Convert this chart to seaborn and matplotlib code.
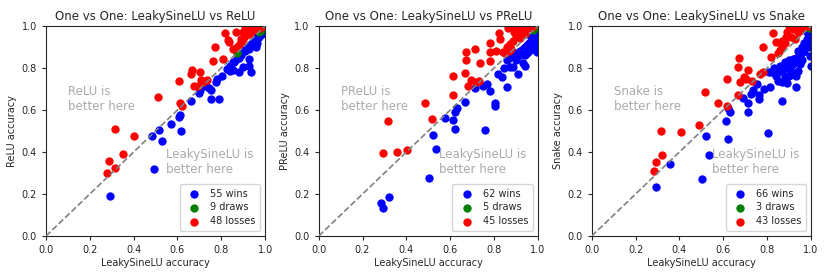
import matplotlib
matplotlib.use("Agg")
import matplotlib.pyplot as plt
import seaborn as sns

# opponents and legend counts
opponents = ["ReLU", "PReLU", "Snake"]
win_counts = [55, 62, 66]
draw_counts = [9, 5, 3]
loss_counts = [48, 45, 43]

# --- LeakySineLU vs ReLU ---
relu_win_x = [0.29, 0.495, 0.485, 0.516, 0.531, 0.571, 0.607, 0.61, 0.616, 0.661, 0.70, 0.703, 0.729,
              0.744, 0.752, 0.752, 0.791, 0.776, 0.779, 0.802, 0.825, 0.84, 0.855, 0.881, 0.855, 0.87,
              0.901, 0.925, 0.934, 0.928, 0.925, 0.90, 0.886, 0.959, 0.962, 0.97, 0.98, 0.99,
              0.84, 0.86, 0.88, 0.89, 0.91, 0.92, 0.93, 0.94, 0.95, 0.96, 0.97, 0.98, 0.99, 0.995,
              0.96, 0.985, 1.0]
relu_win_y = [0.19, 0.32, 0.475, 0.506, 0.452, 0.535, 0.567, 0.577, 0.50, 0.643, 0.681, 0.697, 0.713,
              0.706, 0.694, 0.651, 0.651, 0.733, 0.749, 0.76, 0.797, 0.786, 0.789, 0.781, 0.829, 0.844,
              0.805, 0.81, 0.783, 0.844, 0.892, 0.884, 0.876, 0.90, 0.919, 0.948, 0.963, 0.971,
              0.81, 0.83, 0.85, 0.86, 0.88, 0.90, 0.91, 0.92, 0.93, 0.94, 0.96, 0.97, 0.98, 0.99,
              0.95, 0.96, 0.99]
relu_draw_x = [0.871, 1.0, 0.99, 0.98, 0.995, 1.0, 0.97, 1.0, 0.985]
relu_draw_y = [0.873, 1.0, 0.99, 0.98, 0.995, 1.0, 0.97, 1.0, 0.985]
relu_loss_x = [0.28, 0.289, 0.317, 0.353, 0.315, 0.402, 0.511, 0.609, 0.613, 0.62, 0.662, 0.667, 0.677,
               0.705, 0.708, 0.718, 0.694, 0.733, 0.76, 0.773, 0.81, 0.819, 0.83, 0.837, 0.868, 0.874,
               0.855, 0.892, 0.906, 0.916, 0.932, 0.942,
               0.88, 0.89, 0.90, 0.91, 0.92, 0.93, 0.94, 0.95, 0.955, 0.96, 0.97, 0.975, 0.98, 0.985,
               0.99, 0.90]
relu_loss_y = [0.30, 0.357, 0.325, 0.392, 0.51, 0.476, 0.66, 0.738, 0.633, 0.62, 0.77, 0.792, 0.713,
               0.779, 0.741, 0.732, 0.716, 0.744, 0.832, 0.90, 0.843, 0.968, 0.935, 0.925, 0.971, 0.90,
               0.892, 0.925, 0.952, 0.971, 0.979, 0.987,
               0.91, 0.94, 0.97, 0.99, 1.0, 0.96, 1.0, 0.98, 1.0, 0.99, 1.0, 0.99, 1.0, 1.0,
               1.0, 0.94]

# --- LeakySineLU vs PReLU ---
prelu_win_x = [0.282, 0.295, 0.322, 0.503, 0.537, 0.522, 0.577, 0.614, 0.623, 0.622, 0.629, 0.668,
               0.714, 0.76, 0.749, 0.768, 0.783, 0.803, 0.806, 0.818, 0.838, 0.857, 0.846, 0.875,
               0.888, 0.908, 0.885, 0.911, 0.931, 0.942, 0.934, 0.98, 0.995, 0.972,
               0.86, 0.87, 0.89, 0.90, 0.90, 0.92, 0.93, 0.94, 0.95, 0.96, 0.97, 0.98, 0.99, 1.0,
               0.96, 0.97, 0.98, 0.99, 1.0, 0.99, 1.0, 0.98, 0.95, 0.94, 0.92, 0.97, 1.0, 0.99]
prelu_win_y = [0.155, 0.131, 0.186, 0.276, 0.415, 0.479, 0.561, 0.553, 0.51, 0.589, 0.611, 0.637,
               0.703, 0.506, 0.716, 0.724, 0.69, 0.634, 0.621, 0.771, 0.755, 0.708, 0.798, 0.806,
               0.803, 0.771, 0.855, 0.858, 0.866, 0.81, 0.826, 0.913, 0.874, 0.889,
               0.84, 0.85, 0.86, 0.87, 0.84, 0.88, 0.89, 0.90, 0.91, 0.92, 0.93, 0.94, 0.95, 0.96,
               0.88, 0.90, 0.92, 0.93, 0.94, 0.97, 0.98, 0.96, 0.87, 0.86, 0.86, 0.95, 0.90, 0.89]
prelu_draw_x = [0.99, 1.0, 0.995, 1.0, 0.98]
prelu_draw_y = [1.0, 1.0, 0.995, 1.0, 0.98]
prelu_loss_x = [0.292, 0.355, 0.405, 0.318, 0.485, 0.515, 0.615, 0.615, 0.668, 0.683, 0.695, 0.718,
                0.731, 0.672, 0.672, 0.712, 0.735, 0.78, 0.783, 0.783, 0.811, 0.823, 0.829, 0.842,
                0.865, 0.875, 0.877, 0.888, 0.915, 0.918,
                0.86, 0.85, 0.87, 0.90, 0.92, 0.93, 0.94, 0.95, 0.96, 0.97, 0.98, 0.94, 0.91, 0.89, 0.88]
prelu_loss_y = [0.395, 0.401, 0.411, 0.55, 0.634, 0.556, 0.671, 0.76, 0.774, 0.716, 0.744, 0.735,
                0.739, 0.837, 0.878, 0.889, 0.823, 0.921, 0.878, 0.834, 0.881, 0.968, 0.937, 0.877,
                0.992, 0.913, 0.889, 0.929, 0.973, 0.945,
                0.90, 0.87, 0.88, 0.95, 1.0, 0.98, 1.0, 0.99, 1.0, 0.99, 1.0, 0.96, 0.99, 0.97, 1.0]

# --- LeakySineLU vs Snake ---
snake_win_x = [0.295, 0.357, 0.503, 0.537, 0.522, 0.623, 0.614, 0.631, 0.62, 0.691, 0.714, 0.715,
               0.726, 0.737, 0.754, 0.762, 0.765, 0.788, 0.803, 0.815, 0.811, 0.837, 0.851, 0.869,
               0.869, 0.892, 0.883, 0.911, 0.934, 0.942, 0.946, 0.918, 0.965, 0.995, 1.0, 0.98,
               0.82, 0.83, 0.84, 0.86, 0.87, 0.88, 0.89, 0.90, 0.91, 0.92, 0.93, 0.94, 0.95, 0.96,
               0.97, 0.98, 0.99, 1.0, 0.99, 1.0, 0.97, 0.96, 0.95, 0.98, 1.0, 0.99, 0.93, 0.90,
               0.88, 0.85]
snake_win_y = [0.234, 0.341, 0.27, 0.385, 0.476, 0.464, 0.547, 0.589, 0.608, 0.659, 0.634, 0.591,
               0.675, 0.697, 0.724, 0.673, 0.652, 0.70, 0.49, 0.711, 0.779, 0.795, 0.779, 0.645,
               0.734, 0.731, 0.763, 0.81, 0.712, 0.787, 0.826, 0.842, 0.874, 0.858, 0.81, 0.913,
               0.78, 0.80, 0.76, 0.81, 0.79, 0.83, 0.80, 0.84, 0.78, 0.82, 0.85, 0.88, 0.86, 0.90,
               0.92, 0.94, 0.95, 0.96, 0.92, 0.93, 0.88, 0.84, 0.82, 0.97, 0.98, 0.90, 0.76, 0.76,
               0.75, 0.74]
snake_draw_x = [0.99, 1.0, 0.995]
snake_draw_y = [0.99, 1.0, 0.995]
snake_loss_x = [0.285, 0.295, 0.322, 0.318, 0.408, 0.491, 0.517, 0.578, 0.617, 0.668, 0.675, 0.694,
                0.703, 0.715, 0.731, 0.669, 0.674, 0.615, 0.768, 0.818, 0.783, 0.826, 0.842, 0.857,
                0.869, 0.88, 0.885, 0.922, 0.926, 0.957,
                0.78, 0.85, 0.87, 0.89, 0.90, 0.91, 0.93, 0.94, 0.95, 0.96, 0.97, 0.98, 0.99]
snake_loss_y = [0.311, 0.352, 0.384, 0.502, 0.496, 0.528, 0.687, 0.634, 0.621, 0.671, 0.735, 0.755,
                0.747, 0.79, 0.737, 0.803, 0.848, 0.747, 0.771, 0.853, 0.902, 0.968, 0.926, 0.885,
                0.905, 0.921, 0.949, 0.984, 0.937, 0.98,
                0.78, 0.87, 0.93, 0.97, 1.0, 0.95, 1.0, 0.97, 1.0, 0.99, 1.0, 1.0, 1.0]

panels = [
    (relu_win_x, relu_win_y, relu_draw_x, relu_draw_y, relu_loss_x, relu_loss_y),
    (prelu_win_x, prelu_win_y, prelu_draw_x, prelu_draw_y, prelu_loss_x, prelu_loss_y),
    (snake_win_x, snake_win_y, snake_draw_x, snake_draw_y, snake_loss_x, snake_loss_y),
]

sns.set_style("ticks")
plt.rcParams['font.family'] = ['DejaVu Sans']

fig = plt.figure(figsize=(8.3, 2.77), dpi=100)
lefts = [0.0554, 0.384, 0.713]

for i, (name, data) in enumerate(zip(opponents, panels)):
    wx, wy, dx, dy, lx, ly = data
    ax = fig.add_axes([lefts[i], 0.148, 0.264, 0.758])
    sns.scatterplot(x=wx, y=wy, color='blue', s=36, linewidth=0, ax=ax,
                    label=f"{win_counts[i]} wins", zorder=2)
    sns.scatterplot(x=dx, y=dy, color='green', s=36, linewidth=0, ax=ax,
                    label=f"{draw_counts[i]} draws", zorder=2)
    sns.scatterplot(x=lx, y=ly, color='red', s=36, linewidth=0, ax=ax,
                    label=f"{loss_counts[i]} losses", zorder=2)
    ax.plot([0, 1], [0, 1], color='gray', linestyle='--', linewidth=1.2, zorder=3)

    ax.text(0.1, 0.6, f"{name} is\nbetter here", color='#aaaaaa', fontsize=8.5)
    ax.text(0.55, 0.3, "LeakySineLU is\nbetter here", color='#aaaaaa', fontsize=8.5)

    ax.set_xlim(0, 1)
    ax.set_ylim(0, 1)
    ax.set_xticks([0, 0.2, 0.4, 0.6, 0.8, 1.0])
    ax.set_yticks([0, 0.2, 0.4, 0.6, 0.8, 1.0])
    ax.tick_params(labelsize=7, length=3, width=0.8)
    for sp in ax.spines.values():
        sp.set_linewidth(0.8)
    ax.set_xlabel("LeakySineLU accuracy", fontsize=7, labelpad=2)
    ax.set_ylabel(f"{name} accuracy", fontsize=7, labelpad=3)
    ax.set_title(f"One vs One: LeakySineLU vs {name}", fontsize=8.5, pad=4)
    ax.legend(loc='lower right', fontsize=7, handletextpad=0.6, borderpad=0.5,
              labelspacing=0.4, markerscale=1.0)

fig.savefig("out.png", dpi=100)
